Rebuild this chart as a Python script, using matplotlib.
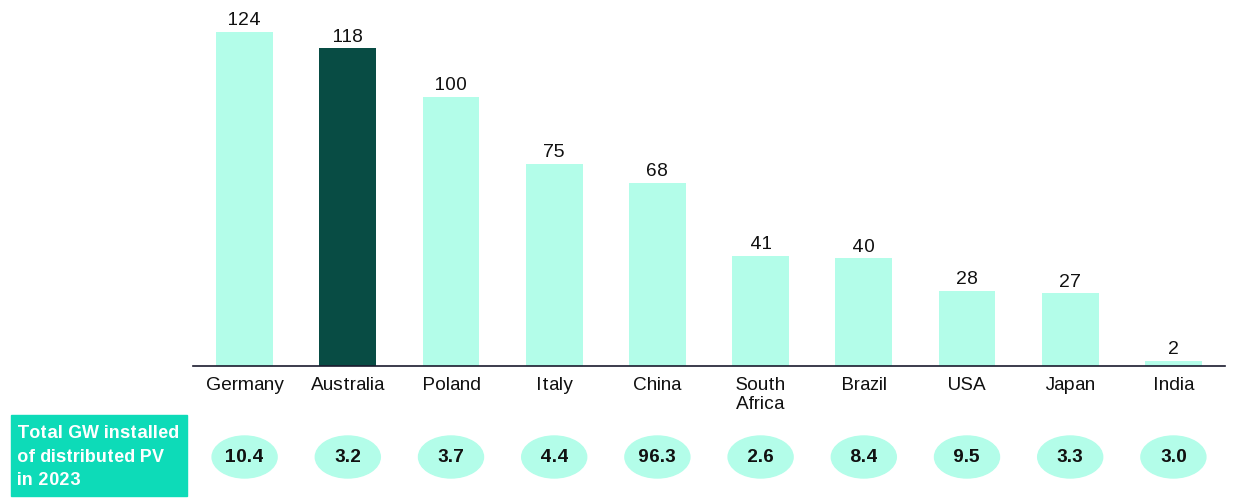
import matplotlib
matplotlib.use("Agg")
import matplotlib.pyplot as plt
from matplotlib.patches import Ellipse, Rectangle
from matplotlib.transforms import blended_transform_factory

plt.rcParams['font.family'] = ['Liberation Sans', 'DejaVu Sans']
plt.rcParams['text.hinting_factor'] = 1

countries = ['Germany', 'Australia', 'Poland', 'Italy', 'China',
             'South\nAfrica', 'Brazil', 'USA', 'Japan', 'India']
values = [124, 118, 100, 75, 68, 41, 40, 28, 27, 2]
gw_installed = ['10.4', '3.2', '3.7', '4.4', '96.3', '2.6', '8.4', '9.5', '3.3', '3.0']
highlight = 'Australia'
row_label = 'Total GW installed\nof distributed PV\nin 2023'

LIGHT = '#b3fde9'
DARK = '#084c44'
TEAL = '#0ddbb8'

fig = plt.figure(figsize=(12.4, 5.01), dpi=100)
ax = fig.add_axes([193 / 1240, 135 / 501, 1032 / 1240, 366 / 501])

x = list(range(len(countries)))
colors = [DARK if c == highlight else LIGHT for c in countries]
ax.bar(x, values, width=0.55, color=colors)
for xi, v in zip(x, values):
    ax.text(xi, v + 1.0, str(v), ha='center', va='bottom', fontsize=13.5, color='#111111')

ax.set_xlim(-0.5, len(countries) - 0.5)
ax.set_ylim(0, 135.9)
ax.set_xticks(x)
ax.set_xticklabels(countries, fontsize=13.5, color='#111111', linespacing=1.12)
ax.tick_params(axis='x', length=0, pad=8)
ax.set_yticks([])
for s in ['top', 'right', 'left']:
    ax.spines[s].set_visible(False)
ax.spines['bottom'].set_color('#1a1a2e')
ax.spines['bottom'].set_linewidth(1.2)

# bottom row: label box + ellipses
fig.patches.append(Rectangle((11 / 1240, 5 / 501), 176 / 1240, 81 / 501,
                             transform=fig.transFigure, color=TEAL, zorder=1))
fig.text(17 / 1240, 44 / 501, row_label, ha='left', va='center', color='white',
         fontsize=12.8, fontweight='bold', linespacing=1.5)

trans = blended_transform_factory(ax.transData, fig.transFigure)
for xi, g in zip(x, gw_installed):
    e = Ellipse((xi, 44 / 501), 0.63, 42 / 501, transform=trans, color=LIGHT,
                clip_on=False)
    fig.patches.append(e)
    fig.text(xi, 44 / 501, g, transform=trans, ha='center', va='center',
             fontsize=13.5, fontweight='bold', color='#111111')

fig.savefig('out.png', dpi=100)
